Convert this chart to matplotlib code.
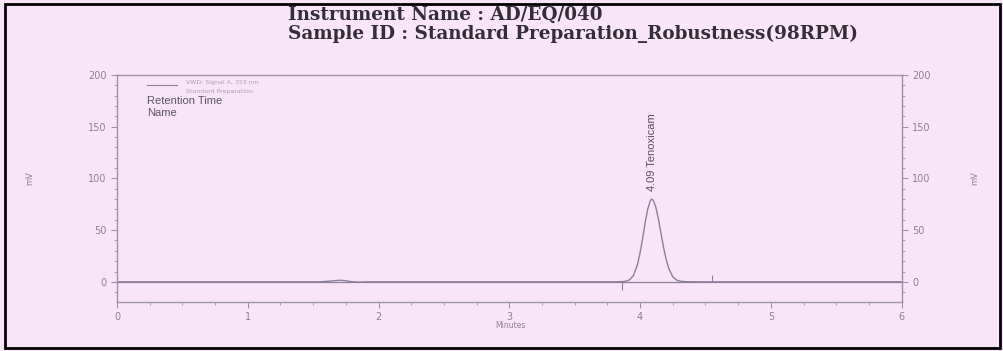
import matplotlib
matplotlib.use("Agg")
import matplotlib.pyplot as plt
from matplotlib.patches import Rectangle
from matplotlib.ticker import MultipleLocator

# Detector trace (minutes, mV)
time_min = [0.00, 1.55, 1.64, 1.70, 1.74, 1.78, 1.84, 1.92, 3.80, 3.88, 3.92, 3.95,
            3.98, 4.00, 4.02, 4.04, 4.06, 4.08, 4.09, 4.10, 4.12, 4.14, 4.16, 4.18,
            4.20, 4.22, 4.25, 4.28, 4.32, 4.36, 4.45, 6.00]
signal_mv = [0.0, 0.0, 0.8, 1.5, 1.2, 0.4, -0.3, 0.0, 0.0, 0.3, 1.9, 6.2,
             16.6, 28.0, 42.0, 58.0, 71.0, 79.0, 80.0, 79.0, 72.6, 61.0, 47.0, 33.0,
             21.6, 12.8, 5.0, 1.6, 0.4, 0.1, 0.0, 0.0]

# Integration event markers (minutes, marker tip in mV)
event_times = [3.86, 4.55]
event_tips = [-8.0, 7.0]

peak_rt = 4.09
peak_height = 80.0
peak_name = "Tenoxicam"

x_ticks = [0, 1, 2, 3, 4, 5, 6]
y_ticks = [0, 50, 100, 150, 200]

bg = "#f8e5f8"
trace_col = "#8c7f98"
axis_col = "#9d93a6"
tick_txt = "#8a8290"

fig = plt.figure(figsize=(10.04, 3.51), dpi=100, facecolor=bg)
ax = fig.add_axes([0.1165, 0.1396, 0.7815, 0.6464], facecolor=bg)

ax.plot(time_min, signal_mv, color=trace_col, lw=1.0)
ax.axhline(0, color=trace_col, lw=0.9)
for t, tip in zip(event_times, event_tips):
    ax.vlines(t, 0, tip, color=trace_col, lw=0.8)

ax.text(peak_rt, peak_height + 8, f"{peak_rt:.2f} {peak_name}", rotation=90,
        ha="center", va="bottom", fontsize=8, color="#555058",
        family="Liberation Sans")

ax.set_xlim(0, 6)
ax.set_ylim(-19.5, 200)
ax.set_xticks(x_ticks)
ax.set_yticks(y_ticks)
ax.xaxis.set_minor_locator(MultipleLocator(0.25))
ax.yaxis.set_minor_locator(MultipleLocator(10))
ax.tick_params(axis="both", which="both", direction="out", colors=axis_col,
               labelcolor=tick_txt, labelsize=7)
ax.tick_params(axis="y", which="both", left=True, right=True,
               labelleft=True, labelright=True)
ax.tick_params(which="major", length=4)
ax.tick_params(which="minor", length=2)
for s in ax.spines.values():
    s.set_color(axis_col)
    s.set_linewidth(1.0)

# Legend block
ax.plot([0.23, 0.46], [190, 190], color=trace_col, lw=0.8)
ax.text(0.53, 193, "VWD: Signal A, 353 nm", fontsize=4.5, color="#aaa0b0",
        va="center", family="DejaVu Sans")
ax.text(0.53, 184, "Standard Preparation", fontsize=4.5, color="#aaa0b0",
        va="center", family="DejaVu Sans")
ax.text(0.23, 175, "Retention Time", fontsize=8, color="#5a555e",
        va="center", family="Liberation Sans")
ax.text(0.23, 163.5, "Name", fontsize=8, color="#5a555e",
        va="center", family="Liberation Sans")

fig.text(510 / 1004, 1 - 325 / 351, "Minutes", fontsize=5.5, color=tick_txt,
         ha="center", va="center")
fig.text(30 / 1004, 1 - 178 / 351, "mV", fontsize=6, color=tick_txt,
         rotation=90, ha="center", va="center")
fig.text(975 / 1004, 1 - 178 / 351, "mV", fontsize=6, color=tick_txt,
         rotation=90, ha="center", va="center")

fig.text(288 / 1004, 1 - 15 / 351, "Instrument Name : AD/EQ/040",
         fontsize=13.2, fontweight="bold", color="#332e36",
         family="DejaVu Serif", va="center")
fig.text(288 / 1004, 1 - 34 / 351,
         "Sample ID : Standard Preparation_Robustness(98RPM)",
         fontsize=13.2, fontweight="bold", color="#332e36",
         family="DejaVu Serif", va="center")

fig.patches.append(Rectangle((5 / 1004, 3 / 351), 995 / 1004, 344 / 351,
                             transform=fig.transFigure, fill=False,
                             edgecolor="black", lw=2.0))

fig.savefig("out.png", dpi=100, facecolor=bg)
